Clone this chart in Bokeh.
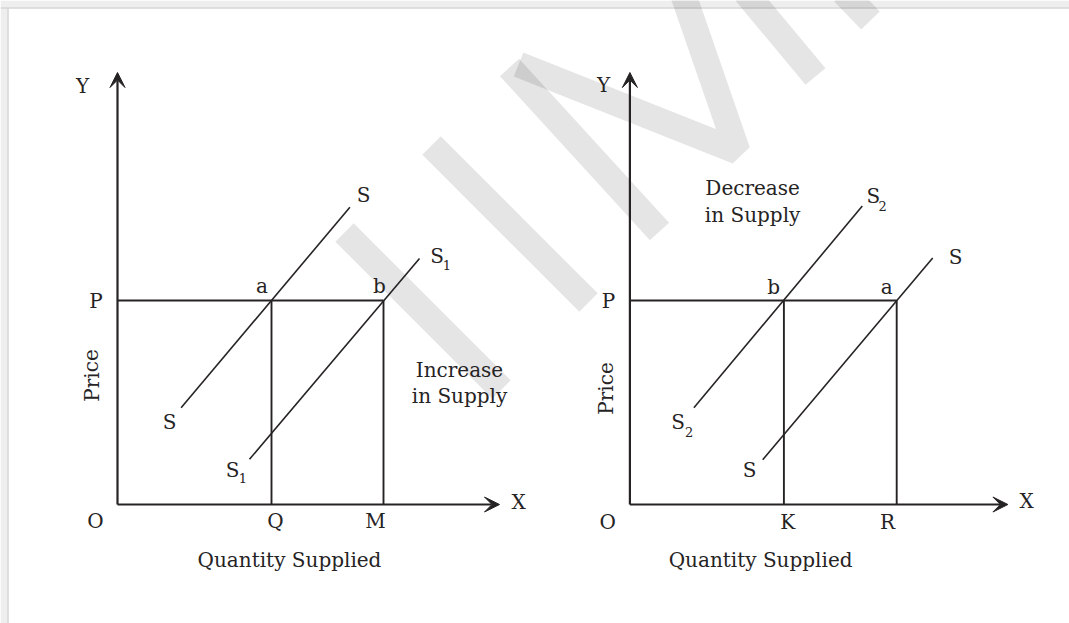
from bokeh.plotting import figure
from bokeh.models import ColumnDataSource, Arrow, VeeHead, Range1d
from bokeh.core.properties import value
from bokeh.embed import file_html
from bokeh.resources import INLINE

# ---------------- data (diagram units, origin O of each panel) ----------------
panel_names = ["Increase in Supply", "Decrease in Supply"]
panel_offset = [0.0, 12.81]          # x position of each panel's origin O

x_axis_end = [9.55, 9.45]            # Quantity axis length (arrow tip)
y_axis_end = [10.8, 10.8]            # Price axis length (arrow tip)
price_P = [5.1, 5.1]                 # price level P
qty_first = [3.85, 3.85]             # Q (left), K (right)
qty_second = [6.65, 6.67]            # M (left), R (right)

# supply curves: (x0, y0, x1, y1) per panel
curve_old_left = [1.59, 2.42, 5.81, 7.43]   # S  (left)
curve_new_left = [3.30, 1.13, 7.55, 6.15]   # S1 (left)
curve_new_right = [1.60, 2.42, 5.81, 7.46]  # S2 (right)
curve_old_right = [3.32, 1.12, 7.57, 6.16]  # S  (right)

# labels (x centre, baseline)
left_text = ["Y", "X", "P", "O", "Q", "M", "Quantity Supplied", "S", "S", "a", "b",
             "S", "S", "Increase", "in Supply"]
left_lx = [-0.875, 10.025, -0.5375, -0.55, 3.95, 6.45, 4.3, 6.15, 7.9875, 3.6125, 6.55,
           1.3, 2.875, 8.55, 8.55]
left_ly = [10.275, -0.125, 4.9, -0.6, -0.6, -0.6, -1.575, 7.55, 6.025, 5.275, 5.275,
           1.875, 0.675, 3.175, 2.525]
left_sub_text = ["1", "1"]
left_sub_x = [8.2375, 3.1375]
left_sub_y = [5.85, 0.525]
left_price_xy = [-0.45, 3.225]

right_text = ["Y", "X", "P", "O", "K", "R", "Quantity Supplied", "Decrease", "in Supply",
              "S", "b", "a", "S", "S", "S"]
right_lx = [-0.6575, 9.9175, -0.5325, -0.5575, 3.9425, 6.4425, 3.2675, 3.0675, 3.0675,
            6.085, 3.5925, 6.4175, 8.1425, 1.205, 2.9925]
right_ly = [10.3, -0.1, 4.9, -0.625, -0.625, -0.625, -1.575, 7.725, 7.05,
            7.525, 5.25, 5.25, 6.0, 1.875, 0.675]
right_sub_text = ["2", "2"]
right_sub_x = [6.3175, 1.48]
right_sub_y = [7.325, 1.675]
right_price_xy = [-0.4075, 2.9]

# faint background watermark strokes (page pixels)
watermark_strokes = [
    [(344, 232), (501, 389)],
    [(431, 145), (588, 302)],
    [(659, 231), (509, 67)],
    [(518, 64), (737, 151), (683, -5)],
    [(745, -8), (815, 76)],
    [(843, -8), (870, 20)],
]

# ---------------- figure ----------------
INK = "#262324"
FONT = value("DejaVu Serif")
PX = 40.0
OX, OY = 117.0, 504.0
W, H = 1069, 623

def ux(a):
    return (a - OX) / PX

def uy(b):
    return (OY - b) / PX

p = figure(width=W, height=H,
           x_range=Range1d(ux(0), ux(W)), y_range=Range1d(uy(H), uy(0)),
           output_backend="svg", toolbar_location=None,
           x_axis_location=None, y_axis_location=None, min_border=0)
p.grid.visible = False
p.outline_line_color = None
p.background_fill_color = "white"
p.border_fill_color = "white"

# frame band (top / left)
p.quad(left=[ux(0), ux(0)], right=[ux(W), ux(7)], top=[uy(0), uy(7)], bottom=[uy(7), uy(H)],
       fill_color="#eeeeee", line_color=None)
p.segment([ux(0), ux(7.5)], [uy(7.5), uy(7.5)], [ux(W), ux(7.5)], [uy(7.5), uy(H)],
          line_color="#d4d4d4", line_width=1.5)

# watermark
wx = [[ux(a) for a, b in s] for s in watermark_strokes]
wy = [[uy(b) for a, b in s] for s in watermark_strokes]
p.multi_line(wx, wy, line_color="black", line_alpha=0.1, line_width=26,
             line_cap="butt", line_join="bevel")

# axes with arrows
ax_src = ColumnDataSource(dict(
    x0=[panel_offset[0], panel_offset[0], panel_offset[1], panel_offset[1]],
    y0=[0, 0, 0, 0],
    x1=[panel_offset[0] + x_axis_end[0], panel_offset[0], panel_offset[1] + x_axis_end[1], panel_offset[1]],
    y1=[0, y_axis_end[0], 0, y_axis_end[1]],
))
p.add_layout(Arrow(end=VeeHead(size=15, fill_color=INK, line_color=INK, line_width=1),
                   x_start="x0", y_start="y0", x_end="x1", y_end="y1",
                   source=ax_src, line_color=INK, line_width=2.2))

# price line and quantity verticals
for i in range(2):
    o = panel_offset[i]
    p.segment([o, o + qty_first[i], o + qty_second[i]],
              [price_P[i], 0, 0],
              [o + qty_second[i], o + qty_first[i], o + qty_second[i]],
              [price_P[i], price_P[i], price_P[i]],
              line_color=INK, line_width=1.9)

# supply curves
curves = [(curve_old_left, 0), (curve_new_left, 0), (curve_new_right, 1), (curve_old_right, 1)]
p.segment([c[0] + panel_offset[i] for c, i in curves], [c[1] for c, i in curves],
          [c[2] + panel_offset[i] for c, i in curves], [c[3] for c, i in curves],
          line_color=INK, line_width=1.6)

# labels (svg text sits ~0.4em below the requested baseline; compensate)
def add_text(xs, ys, texts, off, size_px):
    shift = 0.4 * size_px / PX
    p.text([x + off for x in xs], [y + shift for y in ys], text=texts, text_font=FONT,
           text_font_size=f"{size_px}px", text_align="center", text_baseline="alphabetic",
           text_color=INK)

add_text(left_lx, left_ly, left_text, panel_offset[0], 20)
add_text(left_sub_x, left_sub_y, left_sub_text, panel_offset[0], 13)
add_text(right_lx, right_ly, right_text, panel_offset[1], 20)
add_text(right_sub_x, right_sub_y, right_sub_text, panel_offset[1], 13)

p.text([left_price_xy[0] + panel_offset[0] - 0.2, right_price_xy[0] + panel_offset[1] - 0.2],
       [left_price_xy[1], right_price_xy[1]], text=["Price", "Price"], angle=1.5708,
       text_font=FONT, text_font_size="20px", text_align="center",
       text_baseline="alphabetic", text_color=INK)

open("out.html", "w").write(file_html(p, INLINE))
